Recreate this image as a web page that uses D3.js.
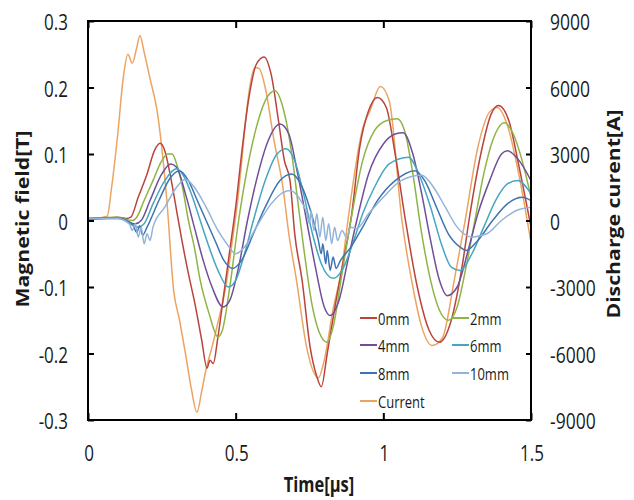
<!DOCTYPE html>
<html>
<head>
<meta charset="utf-8">
<script src="https://cdn.jsdelivr.net/npm/d3@7"></script>
<style>
  body { margin: 0; background: #fff; }
  svg { display: block; }
  text { font-family: "Open Sans", "DejaVu Sans", sans-serif; fill: #1a1a1a; }
</style>
</head>
<body>
<div id="chart"></div>
<script>
// time [us], field [T]
var s0mm = [[0,0.002],[0.05,0.003],[0.1,0.005],[0.13,0.003],[0.145,0.005],[0.17,0.035],[0.2,0.07],[0.225,0.105],[0.244,0.116],[0.26,0.105],[0.28,0.065],[0.3,0.015],[0.318,-0.03],[0.34,-0.08],[0.362,-0.125],[0.385,-0.18],[0.403,-0.222],[0.413,-0.21],[0.424,-0.215],[0.44,-0.175],[0.46,-0.11],[0.48,-0.045],[0.5,0.02],[0.52,0.1],[0.545,0.185],[0.57,0.235],[0.596,0.246],[0.62,0.22],[0.645,0.15],[0.665,0.09],[0.684,0.06],[0.7,-0.02],[0.725,-0.09],[0.752,-0.19],[0.775,-0.235],[0.79,-0.25],[0.81,-0.2],[0.84,-0.12],[0.865,-0.06],[0.893,0.01],[0.92,0.11],[0.95,0.165],[0.98,0.185],[1.01,0.17],[1.04,0.1],[1.075,0.0],[1.115,-0.1],[1.155,-0.165],[1.19,-0.183],[1.23,-0.15],[1.27,-0.06],[1.29,0.0],[1.33,0.1],[1.365,0.16],[1.39,0.173],[1.425,0.15],[1.46,0.08],[1.5,-0.01]];
var s2mm = [[0,0.003],[0.1,0.005],[0.15,0.0],[0.165,0.005],[0.19,0.03],[0.22,0.06],[0.25,0.09],[0.27,0.1],[0.285,0.1],[0.3,0.085],[0.32,0.05],[0.34,0.0],[0.36,-0.04],[0.38,-0.09],[0.41,-0.14],[0.44,-0.175],[0.455,-0.165],[0.48,-0.1],[0.51,0.0],[0.54,0.08],[0.57,0.14],[0.6,0.18],[0.633,0.195],[0.66,0.17],[0.69,0.1],[0.71,0.03],[0.73,-0.04],[0.76,-0.13],[0.79,-0.175],[0.81,-0.183],[0.83,-0.16],[0.86,-0.08],[0.89,0.0],[0.93,0.09],[0.97,0.135],[1.01,0.15],[1.047,0.153],[1.075,0.13],[1.1,0.07],[1.13,-0.02],[1.16,-0.09],[1.19,-0.135],[1.22,-0.15],[1.25,-0.13],[1.28,-0.07],[1.31,0.0],[1.34,0.07],[1.37,0.12],[1.41,0.147],[1.44,0.13],[1.47,0.09],[1.5,0.035]];
var s4mm = [[0,0.003],[0.1,0.004],[0.16,-0.005],[0.18,0.0],[0.21,0.03],[0.25,0.07],[0.28,0.085],[0.3,0.08],[0.33,0.04],[0.36,-0.01],[0.39,-0.06],[0.42,-0.1],[0.457,-0.13],[0.48,-0.12],[0.51,-0.07],[0.54,0.0],[0.57,0.06],[0.61,0.12],[0.65,0.145],[0.68,0.13],[0.71,0.07],[0.74,0.0],[0.77,-0.07],[0.8,-0.13],[0.82,-0.143],[0.85,-0.12],[0.88,-0.06],[0.91,0.0],[0.95,0.07],[1.0,0.115],[1.04,0.13],[1.067,0.132],[1.1,0.1],[1.13,0.04],[1.16,-0.03],[1.19,-0.09],[1.216,-0.113],[1.25,-0.1],[1.29,-0.04],[1.32,0.01],[1.36,0.06],[1.4,0.1],[1.42,0.105],[1.46,0.09],[1.5,0.06]];
var s6mm = [[0,0.003],[0.1,0.004],[0.17,-0.01],[0.19,-0.005],[0.22,0.025],[0.26,0.06],[0.3,0.078],[0.32,0.07],[0.35,0.04],[0.38,0.0],[0.41,-0.04],[0.44,-0.075],[0.475,-0.1],[0.5,-0.09],[0.53,-0.05],[0.56,0.0],[0.6,0.06],[0.64,0.1],[0.67,0.108],[0.7,0.09],[0.73,0.04],[0.76,-0.02],[0.79,-0.065],[0.83,-0.087],[0.86,-0.075],[0.9,-0.03],[0.93,0.01],[0.97,0.05],[1.02,0.085],[1.085,0.095],[1.12,0.07],[1.16,0.02],[1.2,-0.04],[1.23,-0.07],[1.26,-0.075],[1.3,-0.05],[1.34,-0.01],[1.38,0.03],[1.42,0.055],[1.455,0.06],[1.5,0.04]];
var s8mm = [[0,0.003],[0.1,0.003],[0.15,-0.005],[0.165,-0.018],[0.175,-0.008],[0.185,-0.022],[0.2,-0.01],[0.24,0.03],[0.28,0.065],[0.31,0.075],[0.34,0.06],[0.37,0.03],[0.4,0.0],[0.43,-0.03],[0.46,-0.06],[0.49,-0.072],[0.52,-0.06],[0.56,-0.02],[0.6,0.02],[0.65,0.06],[0.69,0.07],[0.72,0.055],[0.75,0.02],[0.78,-0.03],[0.79,-0.05],[0.795,-0.035],[0.805,-0.065],[0.81,-0.045],[0.82,-0.075],[0.83,-0.055],[0.84,-0.072],[0.855,-0.06],[0.89,-0.04],[0.93,-0.01],[0.98,0.03],[1.04,0.06],[1.107,0.075],[1.14,0.06],[1.18,0.02],[1.22,-0.02],[1.26,-0.04],[1.28,-0.045],[1.32,-0.03],[1.37,0.0],[1.42,0.025],[1.47,0.035],[1.5,0.03]];
var s10mm = [[0,0.003],[0.1,0.003],[0.14,-0.005],[0.15,-0.015],[0.16,-0.005],[0.17,-0.025],[0.18,-0.01],[0.19,-0.035],[0.2,-0.02],[0.21,-0.03],[0.22,-0.01],[0.26,0.02],[0.3,0.05],[0.33,0.062],[0.36,0.05],[0.4,0.02],[0.44,-0.015],[0.47,-0.035],[0.5,-0.05],[0.53,-0.04],[0.57,-0.01],[0.62,0.025],[0.66,0.042],[0.685,0.045],[0.72,0.03],[0.74,0.012],[0.75,-0.005],[0.755,0.015],[0.765,-0.015],[0.775,0.01],[0.785,-0.025],[0.795,0.005],[0.805,-0.03],[0.815,-0.005],[0.825,-0.035],[0.835,-0.01],[0.845,-0.03],[0.86,-0.015],[0.875,-0.025],[0.89,-0.01],[0.91,-0.012],[0.95,0.01],[1.0,0.035],[1.06,0.06],[1.13,0.068],[1.17,0.05],[1.21,0.02],[1.25,-0.01],[1.3,-0.025],[1.35,-0.02],[1.4,0.0],[1.45,0.015],[1.5,0.02]];
// time [us], current [A]
var sCurrent = [[0,0],[0.03,100],[0.065,200],[0.08,1500],[0.1,3800],[0.12,6500],[0.135,7500],[0.15,7100],[0.165,7800],[0.176,8350],[0.19,7600],[0.21,6400],[0.234,4950],[0.267,900],[0.29,-3150],[0.31,-4500],[0.33,-6000],[0.35,-7600],[0.369,-8650],[0.385,-7700],[0.4,-6700],[0.42,-5700],[0.44,-4600],[0.465,-3100],[0.49,-800],[0.505,700],[0.52,2600],[0.535,4700],[0.55,6200],[0.565,6900],[0.58,6850],[0.6,6000],[0.63,3600],[0.66,1500],[0.68,-600],[0.706,-2700],[0.74,-5700],[0.78,-7100],[0.8,-6300],[0.83,-4000],[0.86,-2100],[0.88,0],[0.931,4200],[0.955,4950],[0.99,6050],[1.02,5400],[1.063,0],[1.1,-3000],[1.13,-4800],[1.165,-5640],[1.2,-5300],[1.24,-2700],[1.277,0],[1.32,3300],[1.36,4900],[1.385,5100],[1.42,4300],[1.46,2000],[1.5,-1000]];

var seriesNames = ["0mm", "2mm", "4mm", "6mm", "8mm", "10mm", "Current"];
var seriesColors = ["#b8443c", "#8fb446", "#704f98", "#44a6c0", "#3e74b2", "#93b4d8", "#eba462"];
var xTicks = [0, 0.5, 1, 1.5];
var yTicks = [-0.3, -0.2, -0.1, 0, 0.1, 0.2, 0.3];
var y2Ticks = [-9000, -6000, -3000, 0, 3000, 6000, 9000];

var width = 634, height = 500;
var plotL = 88, plotR = 531, plotT = 21, plotB = 420;
var stretch = 1.25;  // the picture's glyphs are taller than wide

var svg = d3.select("#chart").append("svg")
	.attr("width", width)
	.attr("height", height);

var x = d3.scaleLinear().domain([0, 1.5]).range([plotL, plotR]);
var y = d3.scaleLinear().domain([-0.3, 0.3]).range([plotB, plotT]);
var y2 = d3.scaleLinear().domain([-9000, 9000]).range([plotB, plotT]);

function label(px, py, str, size, anchor, bold, rot) {
	return svg.append("text")
		.attr("transform", "translate(" + px + "," + py + ") scale(1," + stretch + ")" + (rot ? " rotate(-90)" : ""))
		.attr("text-anchor", anchor)
		.attr("dominant-baseline", "central")
		.style("font-size", size + "px")
		.style("font-weight", bold ? "bold" : "normal")
		.text(str);
}

var line = d3.line().x(function(d) { return x(d[0]); }).y(function(d) { return y(d[1]); }).curve(d3.curveMonotoneX);
var line2 = d3.line().x(function(d) { return x(d[0]); }).y(function(d) { return y2(d[1]); }).curve(d3.curveMonotoneX);

// current first, field probes on top
svg.append("path").datum(sCurrent)
	.attr("d", line2)
	.attr("fill", "none")
	.attr("stroke", seriesColors[6])
	.attr("stroke-width", 1.5);

var fieldData = [s0mm, s2mm, s4mm, s6mm, s8mm, s10mm];
for (var i = 0; i < fieldData.length; i++) {
	svg.append("path").datum(fieldData[i])
		.attr("d", line)
		.attr("fill", "none")
		.attr("stroke", seriesColors[i])
		.attr("stroke-width", 1.5);
}

// ticks inside the frame
svg.append("g").attr("transform", "translate(" + plotL + ",0)")
	.call(d3.axisLeft(y).tickValues(yTicks).tickSizeInner(-6).tickSizeOuter(0).tickFormat(""));
svg.append("g").attr("transform", "translate(" + plotR + ",0)")
	.call(d3.axisRight(y2).tickValues(y2Ticks).tickSizeInner(-5).tickSizeOuter(0).tickFormat(""));
svg.append("g").attr("transform", "translate(0," + plotB + ")")
	.call(d3.axisBottom(x).tickValues(xTicks).tickSizeInner(-7).tickSizeOuter(0).tickFormat(""));
svg.append("g").attr("transform", "translate(0," + plotT + ")")
	.call(d3.axisTop(x).tickValues(xTicks).tickSizeInner(-7).tickSizeOuter(0).tickFormat(""));

svg.selectAll(".domain").remove();
svg.selectAll(".tick line").attr("stroke", "#000").attr("stroke-width", 2);

svg.append("rect")
	.attr("x", plotL).attr("y", plotT)
	.attr("width", plotR - plotL).attr("height", plotB - plotT)
	.attr("fill", "none").attr("stroke", "#000").attr("stroke-width", 2);

// tick labels
yTicks.forEach(function(d) {
	label(68, y(d) + 1, d === 0 ? "0" : d.toFixed(1), 17, "end", false, false);
});
y2Ticks.forEach(function(d) {
	label(550, y2(d) + 1, String(d), 17.5, "start", false, false);
});
xTicks.forEach(function(d) {
	label(x(d) + 1, 453, String(d), 17, "middle", false, false);
});

// titles
label(22, 219, "Magnetic field[T]", 17, "middle", true, true);
label(613, 214, "Discharge curent[A]", 17, "middle", true, true);
label(319, 484, "Time[\u03bcs]", 16.5, "middle", true, false);

// legend
var legX = [360, 452];
var legY = [318, 345, 373, 401];
for (var j = 0; j < seriesNames.length; j++) {
	var lx = legX[j % 2], ly = legY[Math.floor(j / 2)];
	svg.append("line")
		.attr("x1", lx).attr("x2", lx + 17)
		.attr("y1", ly).attr("y2", ly)
		.attr("stroke", seriesColors[j]).attr("stroke-width", 2);
	label(lx + 18, ly, seriesNames[j], 13, "start", false, false);
}
</script>
</body>
</html>
